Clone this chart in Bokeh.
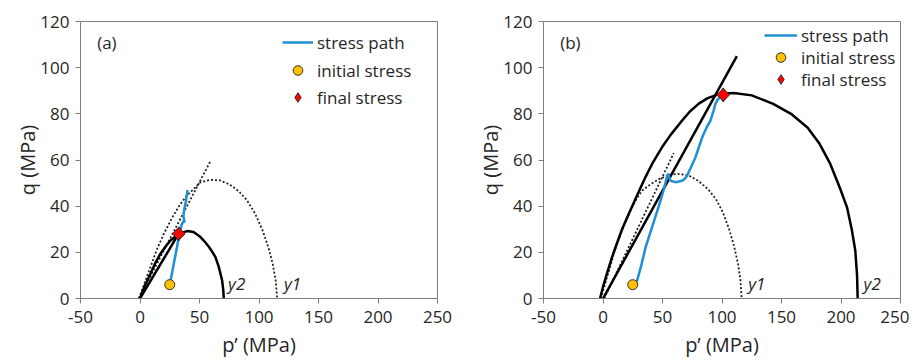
import math
from bokeh.plotting import figure
from bokeh.layouts import row
from bokeh.models import Range1d, FixedTicker, Legend, LegendItem, Label
from bokeh.embed import file_html
from bokeh.resources import INLINE

# ---------------- data: panel (a) ----------------
a_y1_p = [-1, 3, 8.8, 14, 20, 27, 34, 39, 43.9, 50.8, 59.2, 67, 75, 83, 90, 97, 103, 108, 111.5, 114, 115.3]
a_y1_q = [0, 5.5, 13.6, 21, 28, 35, 41, 44.3, 46.8, 50.4, 51.4, 51.2, 49.5, 46.5, 42.5, 36.5, 29.5, 22, 15, 8, 0]
a_dot_line_p = [-1, 59.2]
a_dot_line_q = [0, 59.5]
a_y2_p = [0, 4, 8.8, 13, 17.2, 21.5, 25.6, 30, 34, 39.6, 45, 50, 53.6, 58, 61, 63.4, 66, 68, 69, 70, 70.4]
a_y2_q = [0, 5.5, 10.7, 15.5, 19.4, 22.5, 25.1, 27, 28.3, 29.2, 28.8, 27, 25.1, 22.3, 20, 17.9, 14, 10, 7.8, 3.5, 0]
a_line_p = [0, 33]
a_line_q = [0, 28.5]
a_path_p = [25, 28, 31, 33, 35, 36.5, 37.5, 36.5, 37, 38.5, 40]
a_path_q = [6, 14, 22, 28, 32, 33.5, 33, 35.5, 38, 42, 47]
a_init = (25, 6)
a_final = (32.6, 28.0)

# ---------------- data: panel (b) ----------------
b_y1_p = [-2, 1, 5, 10, 16, 22, 28, 33, 40, 48, 56, 63, 72, 80, 88, 95, 101, 106, 110, 113.5, 115.5, 116.5]
b_y1_q = [0, 5, 12, 21, 29.5, 37, 43, 46.8, 49.5, 52, 53.5, 54, 53.3, 51, 47.5, 43, 37, 30, 23, 15, 8, 0]
b_dot_line_p = [1, 59.5]
b_dot_line_q = [0, 63]
b_y2_p = [-2.5, 0, 4, 7, 10.5, 16, 21.7, 28, 35.7, 42, 49.7, 57, 66.5, 73, 80.5, 88, 94.5, 102, 110,
          125, 143, 158, 172, 182, 191, 199, 205, 209, 212, 213.5, 214]
b_y2_q = [0, 5, 12, 17, 22.2, 30, 36.7, 44, 52.6, 59, 65.6, 71, 77.1, 81, 84.4, 86.8, 88, 88.8, 89,
          88, 84.3, 80, 74, 67, 58.3, 48, 39.6, 30, 20.8, 10, 0]
b_line_p = [0, 112.5]
b_line_q = [0, 105]
b_path_p = [25, 28.7, 32, 35.7, 40, 46.9, 51, 54, 55, 56.7, 61, 66.5, 69, 70.7, 74, 77.7, 83.4,
            87, 90.3, 93, 94.5, 96.5, 98.7, 101]
b_path_q = [6, 7.8, 14, 22, 29, 40, 47, 53.3, 54, 51, 50.4, 51, 52, 53.3, 57, 61.2, 69.9,
            74, 77.1, 81.5, 84.4, 86.3, 87.2, 88.2]
b_init = (25, 6)
b_final = (101, 88.2)

x_ticks = [-50, 0, 50, 100, 150, 200, 250]
y_ticks = [0, 20, 40, 60, 80, 100, 120]
legend_labels = ["stress path", "initial stress", "final stress"]

FONT = "Open Sans"
BLUE = "#1E8FD5"
TXT = "#262626"
AX = "#7F7F7F"
ROW_H = 24


def make_panel(tag, y1p, y1q, dlp, dlq, y2p, y2q, lp, lq, pp, pq, init, final,
               width, bl, br, leg_x, leg_ys, leg_glyph_w, y1_lab, y2_lab):
    p = figure(width=width, height=360, output_backend="svg", toolbar_location=None,
               x_range=Range1d(-50, 250), y_range=Range1d(0, 120),
               min_border_left=bl, min_border_right=br, min_border_top=21,
               min_border_bottom=62)
    p.grid.visible = False
    p.outline_line_color = AX
    p.outline_line_width = 1
    for ax in (p.xaxis[0], p.yaxis[0]):
        ax.axis_line_color = AX
        ax.major_tick_line_color = AX
        ax.major_tick_in = 0
        ax.major_tick_out = 5
        ax.minor_tick_line_color = None
        ax.major_label_text_font = FONT
        ax.major_label_text_font_size = "17px"
        ax.major_label_text_color = TXT
        ax.axis_label_text_font = FONT
        ax.axis_label_text_font_size = "20px"
        ax.axis_label_text_font_style = "normal"
        ax.axis_label_text_color = TXT
    p.xaxis.ticker = FixedTicker(ticks=x_ticks)
    p.yaxis.ticker = FixedTicker(ticks=y_ticks)
    p.xaxis.major_label_overrides = {t: str(t) for t in x_ticks}
    p.xaxis.axis_label = "p’ (MPa)"
    p.yaxis.axis_label = "q (MPa)"
    p.xaxis.major_label_standoff = 7
    p.yaxis.major_label_standoff = 6
    p.xaxis.axis_label_standoff = 5
    p.yaxis.axis_label_standoff = -4

    p.line(y1p, y1q, line_color="#222222", line_width=1.8, line_dash="2 2")
    p.line(dlp, dlq, line_color="#222222", line_width=1.8, line_dash="2 2")
    p.line(y2p, y2q, line_color="black", line_width=2.5)
    p.line(lp, lq, line_color="black", line_width=2.5)
    r_path = p.line(pp, pq, line_color=BLUE, line_width=2.5)
    r_init = p.scatter([init[0]], [init[1]], marker="circle", size=10,
                       fill_color="#FFC000", line_color="#333333", line_width=1)
    r_final = p.scatter([final[0]], [final[1]], marker="diamond", size=14,
                        fill_color="#FF0000", line_color="#333333", line_width=1)
    p.scatter([final[0]], [final[1]], marker="square", size=9, angle=math.pi / 4,
              fill_color="#FF0000", line_color="#333333", line_width=1)

    renderers = [r_path, r_init, r_final]
    for lab, rend, ly in zip(legend_labels, renderers, leg_ys):
        leg = Legend(items=[LegendItem(label=lab, renderers=[rend])],
                     location=(leg_x, ly), padding=0, margin=0, border_line_color=None,
                     background_fill_alpha=0, glyph_width=leg_glyph_w,
                     glyph_height=ROW_H, label_height=ROW_H,
                     spacing=0, label_standoff=4,
                     label_text_font=FONT, label_text_font_size="17px",
                     label_text_color=TXT)
        p.add_layout(leg)

    p.add_layout(Label(x=-36, y=111, text=tag, text_font=FONT, text_font_size="17px",
                       text_color=TXT, text_baseline="middle"))
    for (lx, lt) in (y1_lab, y2_lab):
        p.add_layout(Label(x=lx, y=1.5, text=lt, text_font=FONT, text_font_size="17px",
                           text_font_style="italic", text_color=TXT,
                           text_baseline="bottom"))
    return p


pa = make_panel("(a)", a_y1_p, a_y1_q, a_dot_line_p, a_dot_line_q, a_y2_p, a_y2_q,
                a_line_p, a_line_q, a_path_p, a_path_q, a_init, a_final,
                width=457, bl=80, br=20, leg_x=202, leg_ys=[244, 216, 189], leg_glyph_w=31,
                y1_lab=(121, "y1"), y2_lab=(74, "y2"))
pb = make_panel("(b)", b_y1_p, b_y1_q, b_dot_line_p, b_dot_line_q, b_y2_p, b_y2_q,
                b_line_p, b_line_q, b_path_p, b_path_q, b_init, b_final,
                width=452, bl=86, br=9, leg_x=221, leg_ys=[251, 229, 207], leg_glyph_w=33,
                y1_lab=(122, "y1"), y2_lab=(219, "y2"))

layout = row(pa, pb)
open("out.html", "w").write(file_html(layout, INLINE))
